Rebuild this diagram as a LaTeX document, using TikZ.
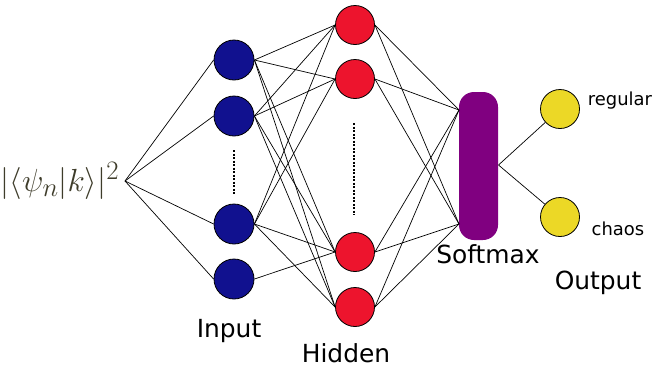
\documentclass[tikz,border=0pt]{standalone}
\usepackage{graphicx}
\usepackage{fontspec}
\setmainfont{DejaVu Sans}
\definecolor{inblue}{RGB}{17,17,143}
\definecolor{hidred}{RGB}{237,20,45}
\definecolor{outyel}{RGB}{236,216,38}
\definecolor{smpurp}{RGB}{128,0,128}
\definecolor{formcol}{RGB}{62,60,42}
\begin{document}
\begin{tikzpicture}[x=1bp,y=-1bp,
  neuron/.style={circle,draw=black,line width=0.8bp,minimum size=39bp,inner sep=0pt},
  innode/.style={neuron,fill=inblue,minimum size=40bp},
  hidnode/.style={neuron,fill=hidred},
  outnode/.style={neuron,fill=outyel},
  conn/.style={draw=black,line width=0.7bp},
  biglabel/.style={font=\fontsize{25}{28}\selectfont,inner sep=0pt},
  smalllabel/.style={font=\fontsize{18}{20}\selectfont,inner sep=0pt},
  vdots/.style={line width=1.6bp,dash pattern=on 2bp off 1.5bp}]
\useasboundingbox (0,0) rectangle (656,372);
% formula
\node[inner sep=0pt,text=formcol,font=\fontsize{24.88}{28}\selectfont] (form) at (60,181) {\scalebox{1.29}{$|\langle\psi_n|k\rangle|^2$}};
\coordinate (src) at (125,181);
% input
\node[innode] (i1) at (234,60) {};
\node[innode] (i2) at (234,116) {};
\node[innode] (i3) at (234,224) {};
\node[innode] (i4) at (234,279) {};
% hidden
\node[hidnode] (h1) at (355,25) {};
\node[hidnode] (h2) at (355,79) {};
\node[hidnode] (h3) at (355,252) {};
\node[hidnode] (h4) at (355,307) {};
% softmax
\node[fill=smpurp,rounded corners=15bp,minimum width=39bp,minimum height=148bp,inner sep=0pt] (sm) at (478.5,166) {};
\coordinate (smtop) at (459,110);
\coordinate (smbot) at (459,224);
\coordinate (smr) at (498.5,165);
% output
\node[outnode] (o1) at (560,109) {};
\node[outnode] (o2) at (560,217) {};
% connectors
\foreach \i in {i1,i2,i3,i4} \draw[conn] (src) -- (\i.west);
\foreach \i in {i1,i2,i3} \foreach \h in {h1,h2,h3,h4} \draw[conn] (\i.east) -- (\h.west);
\draw[conn] (i4.east) -- (h3.west);
\foreach \h in {h1,h2,h3,h4} {\draw[conn] (\h.east) -- (smtop); \draw[conn] (\h.east) -- (smbot);}
\draw[conn] (smr) -- (o1);
\draw[conn] (smr) -- (o2);
% dots
\coordinate (id1) at (234,150); \coordinate (id2) at (234,195);
\draw[vdots,line width=1.3bp] (id1) -- (id2);
\coordinate (hd1) at (354,123); \coordinate (hd2) at (354,215);
\draw[vdots] (hd1) -- (hd2);
% labels
\node[biglabel] (linput) at (229,331) {Input};
\node[biglabel] (lhidden) at (346,353) {Hidden};
\node[biglabel] (lsoft) at (488,254) {Softmax};
\node[biglabel] (lout) at (598,283) {Output};
\node[smalllabel] (lreg) at (620,101) {regular};
\node[smalllabel] (lchaos) at (618,229) {chaos};
\end{tikzpicture}
\end{document}
